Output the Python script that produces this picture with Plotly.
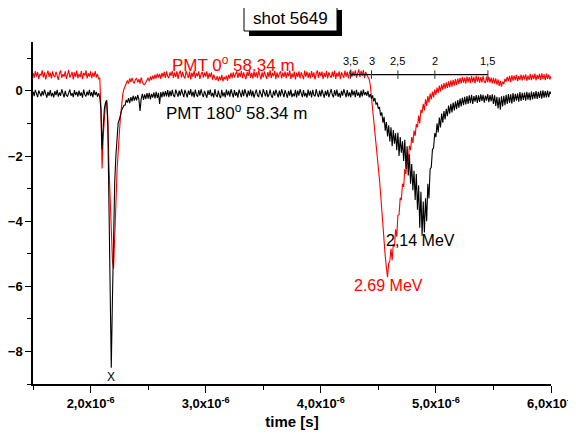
import numpy as np
import plotly.graph_objects as go

t_start_us = 1.50
t_step_us = 0.01

pmt0_values = [
    0.55, 0.40, 0.61, 0.44, 0.58, 0.36, 0.52, 0.47, 0.63, 0.41,
    0.57, 0.35, 0.50, 0.62, 0.43, 0.56, 0.38, 0.60, 0.46, 0.42,
    0.59, 0.45, 0.34, 0.54, 0.63, 0.40, 0.51, 0.44, 0.60, 0.37,
    0.53, 0.64, 0.41, 0.48, 0.58, 0.35, 0.57, 0.43, 0.62, 0.39,
    0.52, 0.42, 0.61, 0.36, 0.55, 0.47, 0.63, 0.38, 0.54, 0.44,
    0.60, 0.39, 0.56, 0.43, 0.61, 0.41, 0.52, 0.37, 0.40, -0.50,
    -2.38, -1.40, -0.70, -0.36, -0.28, -0.85, -2.30, -3.50, -4.50, -5.20,
    -5.45, -4.70, -3.50, -2.45, -1.70, -1.30, -0.80, -0.40, -0.10, 0.05,
    0.15, 0.24, 0.32, 0.22, 0.38, 0.27, 0.40, 0.29, 0.23, 0.35,
    0.39, 0.26, 0.36, 0.22, 0.41, 0.28, 0.20, 0.19, 0.27, 0.35,
    0.40, 0.29, 0.44, 0.33, 0.47, 0.36, 0.50, 0.38, 0.53, 0.41,
    0.52, 0.37, 0.55, 0.42, 0.58, 0.40, 0.60, 0.45, 0.39, 0.57,
    0.46, 0.61, 0.40, 0.56, 0.43, 0.60, 0.37, 0.54, 0.62, 0.41,
    0.58, 0.44, 0.38, 0.61, 0.47, 0.40, 0.59, 0.35, 0.56, 0.43,
    0.62, 0.39, 0.54, 0.45, 0.60, 0.37, 0.51, 0.58, 0.41, 0.56,
    0.44, 0.60, 0.37, 0.54, 0.42, 0.57, 0.34, 0.50, 0.39, 0.33,
    0.45, 0.30, 0.44, 0.33, 0.49, 0.29, 0.43, 0.35, 0.47, 0.31,
    0.50, 0.38, 0.55, 0.39, 0.57, 0.41, 0.52, 0.60, 0.40, 0.56,
    0.43, 0.61, 0.39, 0.57, 0.45, 0.36, 0.58, 0.46, 0.63, 0.40,
    0.55, 0.38, 0.60, 0.43, 0.57, 0.39, 0.62, 0.44, 0.35, 0.57,
    0.41, 0.60, 0.47, 0.37, 0.58, 0.42, 0.63, 0.39, 0.55, 0.45,
    0.61, 0.36, 0.57, 0.41, 0.53, 0.60, 0.38, 0.56, 0.43, 0.59,
    0.39, 0.57, 0.45, 0.62, 0.37, 0.54, 0.41, 0.59, 0.35, 0.56,
    0.43, 0.60, 0.38, 0.57, 0.47, 0.36, 0.62, 0.44, 0.59, 0.40,
    0.56, 0.38, 0.61, 0.43, 0.57, 0.35, 0.52, 0.63, 0.40, 0.58,
    0.45, 0.59, 0.37, 0.55, 0.42, 0.61, 0.38, 0.57, 0.47, 0.40,
    0.59, 0.43, 0.62, 0.37, 0.55, 0.44, 0.60, 0.36, 0.57, 0.46,
    0.40, 0.62, 0.44, 0.58, 0.38, 0.57, 0.65, 0.42, 0.60, 0.46,
    0.63, 0.41, 0.58, 0.66, 0.43, 0.61, 0.47, 0.64, 0.39, 0.58,
    0.49, 0.40, 0.36, 0.18, -0.18, -0.52, -0.78, -1.10, -1.46, -1.82,
    -2.20, -2.72, -3.18, -3.70, -4.28, -4.70, -5.08, -5.42, -5.72, -5.30,
    -5.22, -4.85, -5.20, -4.70, -4.78, -4.25, -4.48, -3.82, -3.80, -3.28,
    -3.35, -2.85, -2.95, -2.40, -2.55, -2.00, -2.15, -1.68, -1.82, -1.42,
    -1.60, -1.22, -1.38, -1.02, -1.12, -0.76, -1.00, -0.58, -0.68, -0.40,
    -0.60, -0.26, -0.46, -0.16, -0.36, -0.08, -0.26, -0.02, -0.20, 0.04,
    -0.12, 0.10, -0.06, 0.16, -0.02, 0.20, 0.03, 0.24, 0.06, 0.26,
    0.09, 0.29, 0.11, 0.32, 0.13, 0.34, 0.16, 0.36, 0.18, 0.38,
    0.21, 0.40, 0.23, 0.43, 0.25, 0.41, 0.22, 0.44, 0.26, 0.42,
    0.24, 0.45, 0.27, 0.43, 0.23, 0.46, 0.28, 0.44, 0.25, 0.42,
    0.26, 0.45, 0.29, 0.24, 0.44, 0.27, 0.43, 0.25, 0.41, 0.23,
    0.40, 0.22, 0.38, 0.19, 0.35, 0.15, 0.31, 0.13, 0.28, 0.21,
    0.37, 0.28, 0.43, 0.30, 0.46, 0.27, 0.48, 0.31, 0.47, 0.33,
    0.49, 0.30, 0.45, 0.33, 0.50, 0.32, 0.48, 0.35, 0.51, 0.31,
    0.47, 0.34, 0.52, 0.33, 0.50, 0.36, 0.53, 0.32, 0.49, 0.37,
    0.52, 0.34, 0.54, 0.36, 0.51, 0.33, 0.53, 0.37, 0.50, 0.35,
    0.45,
]

pmt180_values = [
    -0.02, -0.16, 0.03, -0.12, -0.19, 0.01, -0.10, -0.17, -0.01, -0.14,
    0.04, -0.13, -0.21, -0.03, -0.15, 0.02, -0.17, -0.06, -0.20, -0.01,
    -0.13, 0.03, -0.18, -0.05, -0.15, 0.05, -0.11, -0.20, 0.00, -0.14,
    -0.17, -0.02, 0.04, -0.15, -0.07, -0.19, 0.02, -0.13, -0.03, -0.18,
    0.01, -0.15, -0.05, -0.21, 0.04, -0.11, -0.17, -0.02, -0.14, 0.03,
    -0.16, -0.04, -0.19, 0.02, -0.13, -0.03, -0.18, -0.07, -0.20, -0.55,
    -1.80, -1.10, -0.55, -0.36, -0.30, -1.05, -3.40, -6.30, -8.50, -6.40,
    -4.20, -2.80, -2.00, -1.25, -0.98, -0.88, -0.72, -0.60, -0.52, -0.44,
    -0.44, -0.28, -0.36, -0.22, -0.38, -0.19, -0.32, -0.15, -0.30, -0.17,
    -0.29, -0.12, -0.26, -0.62, -0.24, -0.09, -0.28, -0.11, -0.25, -0.07,
    -0.24, -0.06, -0.26, -0.09, -0.21, -0.05, -0.23, -0.03, -0.22, -0.06,
    -0.40, -0.04, -0.20, -0.02, -0.18, -0.01, -0.17, 0.02, -0.19, 0.00,
    -0.16, 0.03, -0.14, -0.19, 0.04, -0.12, -0.18, 0.01, -0.15, 0.05,
    -0.11, -0.19, 0.03, -0.14, -0.20, 0.01, -0.12, 0.05, -0.17, -0.02,
    -0.20, 0.04, -0.13, -0.18, 0.02, -0.15, 0.05, -0.10, -0.19, 0.00,
    -0.15, -0.21, 0.02, -0.12, 0.04, -0.17, -0.06, -0.20, 0.05, -0.13,
    -0.19, 0.01, -0.15, -0.22, 0.03, -0.17, -0.05, -0.20, 0.04, -0.14,
    0.00, -0.18, 0.05, -0.13, -0.20, 0.02, -0.15, -0.04, -0.21, 0.04,
    -0.12, -0.19, 0.03, -0.16, 0.05, -0.09, -0.20, 0.01, -0.15, 0.04,
    -0.17, 0.00, -0.21, -0.08, 0.04, -0.14, -0.19, 0.02, -0.12, -0.20,
    0.05, -0.10, -0.17, 0.02, -0.19, -0.12, 0.04, -0.15, -0.21, 0.00,
    -0.15, 0.04, -0.12, -0.20, 0.01, -0.17, 0.05, -0.10, -0.19, 0.02,
    -0.13, -0.21, 0.00, -0.15, 0.04, -0.19, -0.08, -0.17, 0.03, -0.20,
    0.01, -0.15, 0.05, -0.12, -0.19, 0.02, -0.17, -0.06, -0.21, 0.04,
    -0.15, 0.00, -0.20, 0.03, -0.13, -0.17, 0.05, -0.10, -0.19, 0.01,
    -0.17, 0.04, -0.12, -0.21, 0.00, -0.15, 0.03, -0.19, -0.07, 0.05,
    -0.12, -0.20, 0.02, -0.15, 0.04, -0.18, -0.06, -0.21, 0.00, -0.15,
    0.05, -0.12, -0.19, 0.02, -0.17, -0.05, -0.20, 0.04, -0.14, 0.00,
    -0.19, 0.03, -0.15, -0.05, -0.21, 0.01, -0.17, 0.04, -0.13, -0.04,
    -0.15, 0.00, -0.20, -0.10, -0.24, -0.14, -0.32, -0.22, -0.42, -0.36,
    -0.55, -0.50, -0.76, -0.66, -0.98, -0.80, -1.22, -0.96, -1.40, -1.06,
    -1.55, -1.12, -1.70, -1.20, -1.62, -1.30, -1.82, -1.28, -2.00, -1.42,
    -1.90, -1.55, -2.15, -1.50, -2.40, -1.70, -2.60, -1.95, -2.85, -2.25,
    -3.05, -2.45, -3.35, -2.55, -3.65, -2.90, -4.20, -3.10, -4.45, -3.40,
    -4.35, -3.30, -4.00, -2.85, -3.30, -2.40, -2.35, -1.80, -1.75, -1.30,
    -1.42, -1.00, -1.28, -0.82, -1.12, -0.70, -0.98, -0.62, -0.88, -0.55,
    -0.78, -0.45, -0.70, -0.40, -0.66, -0.36, -0.60, -0.32, -0.56, -0.28,
    -0.52, -0.24, -0.48, -0.21, -0.44, -0.18, -0.42, -0.16, -0.40, -0.14,
    -0.38, -0.12, -0.40, -0.16, -0.33, -0.13, -0.37, -0.14, -0.34, -0.11,
    -0.31, -0.12, -0.36, -0.15, -0.30, -0.10, -0.35, -0.13, -0.32, -0.11,
    -0.40, -0.14, -0.46, -0.18, -0.54, -0.20, -0.58, -0.17, -0.48, -0.15,
    -0.44, -0.12, -0.40, -0.10, -0.37, -0.11, -0.39, -0.07, -0.34, -0.09,
    -0.30, -0.08, -0.33, -0.04, -0.31, -0.06, -0.28, -0.05, -0.30, -0.03,
    -0.27, -0.05, -0.29, -0.02, -0.26, -0.04, -0.24, -0.01, -0.25, -0.03,
    -0.22, 0.00, -0.24, 0.02, -0.21, -0.01, -0.20, 0.01, -0.19, -0.02,
    -0.10,
]

# neutron energy scale (MeV) and the flight times where they sit (us)
energy_labels = ["3,5", "3", "2,5", "2", "1,5"]
energy_times_us = [4.258, 4.441, 4.670, 4.991, 5.452]
energy_scale_level = 0.5

x_tick_vals = [2, 3, 4, 5, 6]
x_tick_text = ["2,0x10<sup>-6</sup>", "3,0x10<sup>-6</sup>", "4,0x10<sup>-6</sup>",
               "5,0x10<sup>-6</sup>", "6,0x10<sup>-6</sup>"]
x_minor_vals = [1.5, 2.5, 3.5, 4.5, 5.5]
y_tick_vals = [-8, -6, -4, -2, 0]
y_minor_vals = [-9, -7, -5, -3, -1, 1]

t_red = t_start_us + t_step_us * np.arange(len(pmt0_values))
t_black = t_start_us + t_step_us * np.arange(len(pmt180_values))

FONT = "Liberation Sans, Arial, sans-serif"
fig = go.Figure()
fig.add_trace(go.Scatter(x=t_red, y=pmt0_values, mode="lines",
                         line=dict(color="#ff0000", width=1.1), showlegend=False))
fig.add_trace(go.Scatter(x=t_black, y=pmt180_values, mode="lines",
                         line=dict(color="#000000", width=1.1), showlegend=False))

# energy scale line with ticks
fig.add_trace(go.Scatter(x=[energy_times_us[0], energy_times_us[-1]],
                         y=[energy_scale_level, energy_scale_level], mode="lines",
                         line=dict(color="black", width=1.2), showlegend=False))
tx, ty = [], []
for t in energy_times_us:
    tx += [t, t, None]
    ty += [energy_scale_level - 0.13, energy_scale_level + 0.13, None]
fig.add_trace(go.Scatter(x=tx, y=ty, mode="lines", line=dict(color="#333", width=1),
                         showlegend=False))
for lab, t in zip(energy_labels, energy_times_us):
    fig.add_annotation(x=t, y=0.93, text=lab, showarrow=False,
                       xanchor="center", yanchor="middle",
                       font=dict(family=FONT, size=11, color="black"))

ann = [
    dict(x=3.243, y=0.81, text="PMT 0<sup>o</sup> 58.34 m", color="#ff0000", size=17),
    dict(x=3.27, y=-0.64, text="PMT 180<sup>o</sup> 58.34 m", color="#000000", size=17),
    dict(x=4.87, y=-4.58, text="2,14 MeV", color="#000000", size=16),
    dict(x=4.59, y=-5.99, text="2.69 MeV", color="#ff0000", size=16),
]
for a in ann:
    fig.add_annotation(x=a["x"], y=a["y"], text=a["text"], showarrow=False,
                       xanchor="center", yanchor="middle",
                       font=dict(family=FONT, size=a["size"], color=a["color"]))
fig.add_annotation(x=2.174, y=-8.77, text="X", showarrow=False,
                   xanchor="center", yanchor="middle",
                   font=dict(family=FONT, size=12, color="black"))

# the page body adds an 8 px offset; the figure is sized so that the plot
# area lands at window pixels x 33..551, y 42..384
OFF = 8
W, H = 576 - OFF, 439 - OFF
L, R, T, B = 33 - OFF, 25, 42 - OFF, 55
pw, ph = W - L - R, H - T - B
def px(x): return (x - OFF - L) / pw
def py(y): return (H - B - (y - OFF)) / ph
fig.add_shape(type="rect", xref="paper", yref="paper", x0=px(249), x1=px(342),
              y0=py(36), y1=py(10), fillcolor="black", line=dict(width=0))
fig.add_shape(type="rect", xref="paper", yref="paper", x0=px(244), x1=px(337),
              y0=py(31), y1=py(5), fillcolor="white", line=dict(color="black", width=1))
fig.add_annotation(xref="paper", yref="paper", x=px(290.5), y=py(18), text="shot 5649",
                   showarrow=False, xanchor="center", yanchor="middle",
                   font=dict(family=FONT, size=17, color="black"))

fig.update_layout(
    width=W, height=H, margin=dict(l=L, r=R, t=T, b=B, autoexpand=False),
    paper_bgcolor="white", plot_bgcolor="white",
    font=dict(family=FONT, color="black"),
    xaxis=dict(range=[1.5, 6.0], tickvals=x_tick_vals, ticktext=x_tick_text,
               automargin=False,
               ticks="outside", ticklen=7, tickwidth=1.2, tickcolor="black",
               showline=True, linecolor="black", linewidth=1.5, showgrid=False,
               zeroline=False, tickfont=dict(family=FONT, size=13, weight="bold"),
               minor=dict(tickvals=x_minor_vals, ticks="outside", ticklen=4,
                          tickcolor="black", showgrid=False),
               title=dict(text="<b>time [s]</b>", font=dict(family=FONT, size=15),
                          standoff=6)),
    yaxis=dict(range=[-9, 1.5], tickvals=y_tick_vals, ticks="outside", ticklen=6,
               automargin=False,
               tickwidth=1.2, tickcolor="black", showline=True, linecolor="black",
               linewidth=1.5, showgrid=False, zeroline=False,
               tickfont=dict(family=FONT, size=13, weight="bold"),
               minor=dict(tickvals=y_minor_vals, ticks="outside", ticklen=4,
                          tickcolor="black", showgrid=False)),
)
fig.write_html("out.html")
